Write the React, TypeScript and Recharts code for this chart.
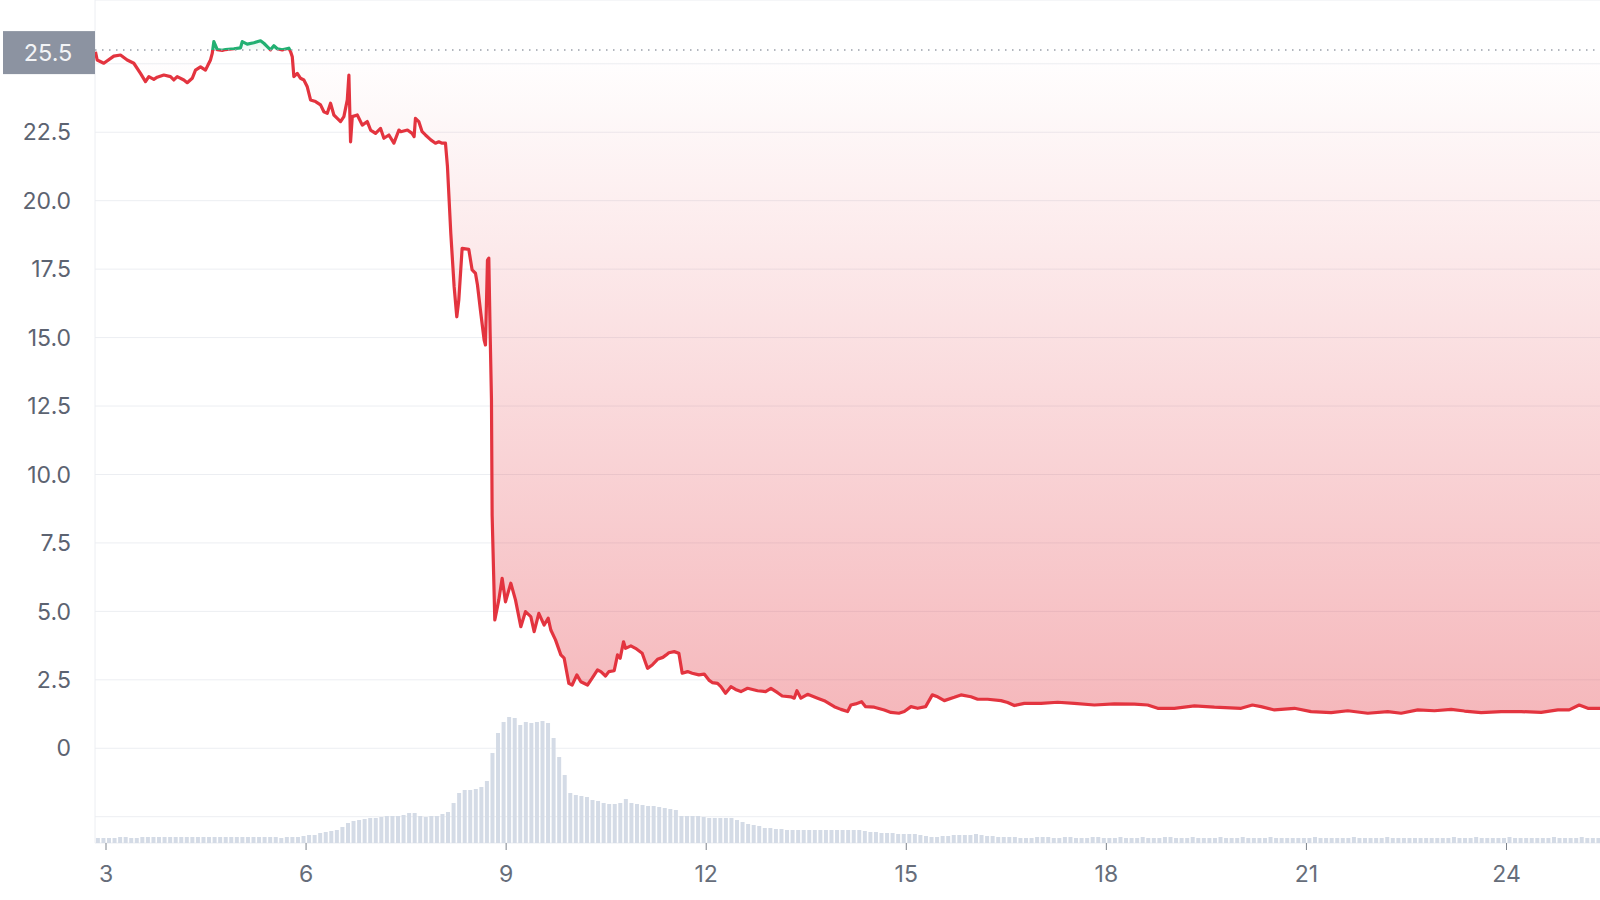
import React from 'react';
import {
  ComposedChart,
  BarChart,
  Area,
  Bar,
  XAxis,
  YAxis,
  CartesianGrid,
  ReferenceLine,
} from 'recharts';

// Price series: day of month and price (USD)
const priceDays = [
  2.842, 2.868, 2.967, 3.117, 3.217, 3.318, 3.417, 3.517, 3.592, 3.642, 3.717, 3.768, 3.867, 3.967, 4.017,
  4.068, 4.167, 4.218, 4.293, 4.342, 4.417, 4.492, 4.542, 4.567, 4.593, 4.617, 4.668, 4.743, 4.793, 4.917,
  5.017, 5.043, 5.118, 5.217, 5.317, 5.367, 5.418, 5.467, 5.517, 5.568, 5.643, 5.692, 5.742, 5.767, 5.793,
  5.817, 5.868, 5.917, 5.967, 6.018, 6.067, 6.142, 6.217, 6.267, 6.318, 6.367, 6.417, 6.468, 6.517, 6.567,
  6.618, 6.642, 6.667, 6.693, 6.768, 6.843, 6.918, 6.967, 7.042, 7.117, 7.167, 7.242, 7.317, 7.392, 7.42,
  7.52, 7.59, 7.62, 7.64, 7.69, 7.74, 7.79, 7.87, 7.94, 7.99, 8.04, 8.09, 8.12, 8.17, 8.22,
  8.26, 8.29, 8.34, 8.44, 8.49, 8.54, 8.57, 8.62, 8.67, 8.69, 8.72, 8.74, 8.76, 8.78, 8.79,
  8.83, 8.89, 8.94, 8.99, 9.07, 9.14, 9.22, 9.29, 9.37, 9.42, 9.49, 9.57, 9.63, 9.67, 9.74,
  9.82, 9.87, 9.94, 9.99, 10.06, 10.12, 10.22, 10.29, 10.37, 10.42, 10.49, 10.54, 10.62, 10.67, 10.71,
  10.76, 10.79, 10.87, 10.94, 11.04, 11.12, 11.19, 11.27, 11.35, 11.4, 11.44, 11.52, 11.59, 11.64, 11.72,
  11.79, 11.89, 11.97, 12.04, 12.09, 12.17, 12.22, 12.29, 12.37, 12.44, 12.52, 12.62, 12.77, 12.89, 12.97,
  13.07, 13.14, 13.27, 13.32, 13.36, 13.42, 13.52, 13.67, 13.77, 13.92, 14.02, 14.12, 14.17, 14.24, 14.33,
  14.39, 14.52, 14.67, 14.77, 14.89, 14.97, 15.07, 15.17, 15.29, 15.39, 15.47, 15.57, 15.72, 15.82, 15.97,
  16.07, 16.22, 16.42, 16.52, 16.62, 16.77, 17.02, 17.27, 17.52, 17.82, 18.12, 18.42, 18.62, 18.77, 19.02,
  19.32, 19.62, 20.02, 20.19, 20.32, 20.52, 20.82, 21.07, 21.37, 21.62, 21.92, 22.22, 22.42, 22.67, 22.92,
  23.17, 23.37, 23.62, 23.92, 24.22, 24.52, 24.77, 24.94, 25.09, 25.22, 25.42,
];

const prices = [
  25.44, 25.14, 25.02, 25.28, 25.32, 25.14, 25.02, 24.65, 24.35, 24.53, 24.43, 24.51, 24.59, 24.53, 24.41,
  24.53, 24.41, 24.31, 24.47, 24.77, 24.89, 24.77, 25.02, 25.14, 25.38, 25.81, 25.52, 25.49, 25.52, 25.55,
  25.58, 25.81, 25.72, 25.77, 25.84, 25.75, 25.63, 25.51, 25.66, 25.55, 25.51, 25.54, 25.57, 25.45, 25.26,
  24.53, 24.65, 24.47, 24.41, 24.16, 23.68, 23.62, 23.5, 23.25, 23.19, 23.56, 23.13, 23.01, 22.89, 23.07,
  23.68, 24.59, 22.15, 23.07, 23.13, 22.76, 22.89, 22.58, 22.46, 22.64, 22.28, 22.4, 22.1, 22.58, 22.52,
  22.58, 22.46, 22.34, 23.01, 22.89, 22.52, 22.4, 22.22, 22.1, 22.15, 22.1, 22.1, 21.24, 18.81, 16.86,
  15.76, 16.37, 18.26, 18.22, 17.47, 17.35, 16.92, 15.89, 14.91, 14.73, 17.83, 17.9, 15.16, 12.72, 8.5,
  4.69, 5.42, 6.21, 5.35, 6.03, 5.42, 4.44, 4.99, 4.81, 4.26, 4.93, 4.5, 4.75, 4.32, 3.96,
  3.41, 3.29, 2.37, 2.31, 2.68, 2.43, 2.31, 2.56, 2.86, 2.8, 2.64, 2.8, 2.83, 3.41, 3.29,
  3.89, 3.65, 3.74, 3.65, 3.47, 2.92, 3.04, 3.25, 3.32, 3.41, 3.49, 3.53, 3.47, 2.74, 2.8,
  2.74, 2.68, 2.71, 2.49, 2.4, 2.37, 2.25, 2.01, 2.25, 2.15, 2.07, 2.19, 2.1, 2.07, 2.19,
  2.03, 1.91, 1.88, 1.83, 2.1, 1.83, 1.97, 1.83, 1.74, 1.52, 1.42, 1.34, 1.58, 1.62, 1.7,
  1.52, 1.5, 1.4, 1.31, 1.28, 1.34, 1.52, 1.46, 1.52, 1.95, 1.88, 1.74, 1.86, 1.95, 1.88,
  1.79, 1.79, 1.74, 1.67, 1.56, 1.64, 1.64, 1.68, 1.64, 1.58, 1.62, 1.61, 1.58, 1.46, 1.46,
  1.55, 1.5, 1.46, 1.58, 1.52, 1.4, 1.46, 1.34, 1.3, 1.37, 1.28, 1.34, 1.28, 1.4, 1.37,
  1.42, 1.36, 1.3, 1.34, 1.34, 1.31, 1.4, 1.4, 1.58, 1.46, 1.46,
];

// Trading volume, 2-hour buckets (units of $100k), starting at day 2.875
const volumeStartDay = 2.875;
const volumeStepDays = 1 / 12;
const volume = [
  5, 5, 5, 5, 6, 6, 5, 5, 6, 6, 6, 6,
  6, 6, 6, 6, 6, 6, 6, 6, 6, 6, 6, 6,
  6, 6, 6, 6, 6, 6, 6, 6, 6, 5, 6, 6,
  6, 7, 8, 8, 10, 11, 12, 13, 16, 20, 22, 23,
  24, 25, 25, 26, 27, 27, 27, 28, 30, 30, 27, 26,
  27, 27, 29, 31, 40, 50, 53, 53, 54, 56, 62, 90,
  110, 121, 126, 125, 118, 121, 120, 121, 122, 120, 105, 86,
  68, 50, 48, 47, 46, 43, 42, 40, 39, 39, 40, 44,
  40, 39, 38, 37, 37, 36, 35, 34, 33, 27, 27, 27,
  27, 26, 25, 25, 25, 25, 25, 23, 21, 19, 18, 17,
  15, 15, 14, 14, 13, 13, 13, 13, 13, 13, 13, 13,
  13, 13, 13, 13, 13, 13, 12, 11, 11, 10, 10, 10,
  9, 9, 9, 9, 8, 7, 6, 6, 7, 7, 8, 8,
  8, 8, 9, 8, 7, 7, 6, 6, 6, 6, 5, 5,
  5, 6, 6, 6, 5, 5, 6, 6, 5, 5, 5, 6,
  6, 5, 5, 5, 6, 5, 5, 5, 6, 5, 5, 5,
  6, 6, 5, 5, 5, 6, 5, 5, 5, 5, 6, 5,
  5, 5, 6, 5, 5, 5, 5, 6, 5, 5, 5, 5,
  5, 5, 5, 6, 5, 5, 5, 5, 5, 5, 6, 5,
  5, 5, 5, 5, 6, 5, 5, 5, 5, 5, 5, 5,
  5, 5, 5, 5, 6, 5, 5, 5, 6, 5, 5, 5,
  5, 5, 6, 5, 5, 5, 5, 5, 5, 5, 6, 5,
  5, 5, 5, 6, 5, 5, 5,
];

const xTicks = [3, 6, 9, 12, 15, 18, 21, 24];
const yTicks = [-2.5, 0, 2.5, 5, 7.5, 10, 12.5, 15, 17.5, 20, 22.5, 25];
const baselinePrice = 25.5;
const xDomain: [number, number] = [2.835, 25.402];
const yDomain: [number, number] = [-3.46, 27.33];
const volumeDomain: [number, number] = [0, 843];

const RED = '#e3343f';
const GREEN = '#22b072';
const FONT = 'Inter, "Noto Sans", "DejaVu Sans", sans-serif';

const W = 1600;
const H = 900;
const AXIS_W = 95;
const AXIS_H = 57;

const priceRows = priceDays.map((t, i) => ({ t, price: prices[i] }));
const volumeRows = volume.map((v, i) => ({ t: volumeStartDay + i * volumeStepDays, vol: v }));

const pMax = Math.max(...prices);
const pMin = Math.min(...prices);
const splitOffset = (pMax - baselinePrice) / (pMax - pMin);

const BaseLabel = (props: any) => {
  const vb = props.viewBox || {};
  const x = vb.x ?? AXIS_W;
  const y = vb.y ?? 50;
  return (
    <g>
      <rect x={x - 92} y={y - 19} width={92} height={43} fill="#8c93a1" />
      <text
        x={x - 47}
        y={y + 2.5}
        textAnchor="middle"
        dominantBaseline="central"
        fill="#f3f4f6"
        fontSize={23.5}
        fontFamily={FONT}
      >
        {baselinePrice.toFixed(1)}
      </text>
    </g>
  );
};

const yFmt = (v: number) => {
  if (v === -2.5 || v === 25) return '';
  if (v === 0) return '0';
  return v.toFixed(1);
};

export default function App() {
  return (
    <div style={{ position: 'absolute', left: 0, top: 0, width: W, height: H, background: '#fff' }}>
      {/* Base layer: grid, axes and volume bars */}
      <div style={{ position: 'absolute', left: 0, top: 0 }}>
        <BarChart width={W} height={H} data={volumeRows} margin={{ top: 0, right: 0, bottom: 0, left: 0 }}>
          <CartesianGrid horizontal vertical={false} stroke="#eceef2" strokeWidth={1} />
          <XAxis
            dataKey="t"
            type="number"
            domain={xDomain}
            ticks={xTicks}
            allowDataOverflow
            axisLine={false}
            tickLine={{ stroke: '#7d838c', strokeWidth: 1 }}
            tickSize={7}
            tickMargin={16}
            height={AXIS_H}
            tick={{ fontSize: 23, fill: '#666d7a', fontFamily: FONT }}
            interval={0}
          />
          <YAxis
            type="number"
            domain={yDomain}
            ticks={yTicks}
            allowDataOverflow
            width={AXIS_W}
            axisLine={{ stroke: '#eceef2' }}
            tickLine={false}
            tickSize={0}
            tickMargin={24}
            tickFormatter={yFmt}
            tick={{ fontSize: 23, fill: '#5c6371', fontFamily: FONT }}
            interval={0}
          />
          <YAxis yAxisId="v" type="number" domain={volumeDomain} allowDataOverflow hide />
          <Bar yAxisId="v" dataKey="vol" fill="#d4dbe6" barSize={4} isAnimationActive={false} />
        </BarChart>
      </div>
      {/* Top layer: price area with baseline */}
      <div style={{ position: 'absolute', left: 0, top: 0 }}>
        <ComposedChart
          width={W}
          height={H}
          data={priceRows}
          margin={{ top: 0, right: 0, bottom: AXIS_H, left: AXIS_W }}
        >
          <defs>
            <linearGradient id="strokeSplit" x1="0" y1="0" x2="0" y2="1">
              <stop offset={0} stopColor={GREEN} />
              <stop offset={splitOffset} stopColor={GREEN} />
              <stop offset={splitOffset} stopColor={RED} />
              <stop offset={1} stopColor={RED} />
            </linearGradient>
            <linearGradient id="fillSplit" x1="0" y1="0" x2="0" y2="1">
              <stop offset={0} stopColor={GREEN} stopOpacity={0.12} />
              <stop offset={splitOffset} stopColor={GREEN} stopOpacity={0.03} />
              <stop offset={splitOffset} stopColor={RED} stopOpacity={0.0} />
              <stop offset={1} stopColor={RED} stopOpacity={0.35} />
            </linearGradient>
          </defs>
          <XAxis dataKey="t" type="number" domain={xDomain} allowDataOverflow hide />
          <YAxis type="number" domain={yDomain} allowDataOverflow hide />
          <ReferenceLine
            y={baselinePrice}
            stroke="#9aa0a9"
            strokeWidth={1.5}
            strokeDasharray="1.5 5.5"
            label={BaseLabel}
          />
          <Area
            dataKey="price"
            type="linear"
            baseValue={baselinePrice}
            stroke="url(#strokeSplit)"
            strokeWidth={3.2}
            strokeLinejoin="round"
            fill="url(#fillSplit)"
            fillOpacity={1}
            dot={false}
            activeDot={false}
            isAnimationActive={false}
          />
        </ComposedChart>
      </div>
    </div>
  );
}
